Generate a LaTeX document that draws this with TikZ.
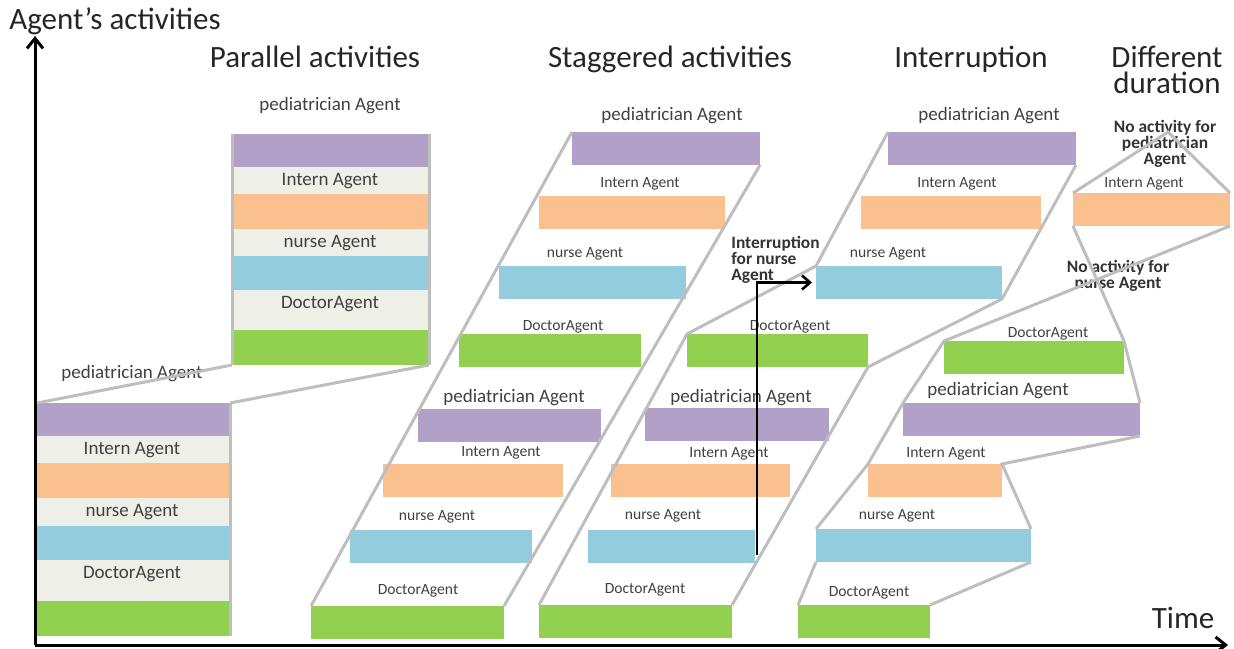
\documentclass[tikz,border=0pt]{standalone}
\usepackage{fontspec}
\setmainfont{Carlito}
\usetikzlibrary{arrows.meta, positioning}
\definecolor{pedpurple}{RGB}{177,160,199}
\definecolor{intorange}{RGB}{250,192,144}
\definecolor{nurblue}{RGB}{147,205,221}
\definecolor{docgreen}{RGB}{146,208,80}
\definecolor{layergray}{RGB}{238,240,232}
\definecolor{linkgray}{RGB}{190,190,190}
\definecolor{txtgray}{RGB}{64,64,64}

% one activity bar: [height]{name}{colour}{x}{y}{width}, in pixels
\newcommand{\actbar}[6][33]{\node[bar, fill=#3, minimum width=#6*0.5pt, minimum height=#1*0.5pt] (#2) at (#4,#5) {};}

\begin{document}
\begin{tikzpicture}[x=0.5pt, y=-0.5pt,
  bar/.style={anchor=north west, inner sep=0pt, outer sep=0pt},
  link/.style={draw=linkgray, line width=1.5pt},
  axis/.style={line width=1.5pt, -{Straight Barb[length=5pt, width=8pt]}},
  title/.style={font=\fontsize{15.5}{13}\selectfont, text=black!85, inner sep=0pt},
  biglbl/.style={font=\fontsize{9.5}{11}\selectfont, text=txtgray, inner sep=0pt},
  smalllbl/.style={font=\fontsize{7.8}{9}\selectfont, text=txtgray, inner sep=0pt},
  note/.style={font=\fontsize{8.7}{8}\selectfont\bfseries, text=black!80, inner sep=0pt}]
  \useasboundingbox (0,0) rectangle (1234,648);

  % axes
  \coordinate (origin) at (35,645);
  \coordinate (yend) at (35,36);
  \coordinate (xend) at (1228,645);
  \draw[axis] (origin) -- (yend);
  \draw[axis] (origin) -- (xend);
  \node[title, anchor=base west] (ylabel) at (9,29) {Agent’s activities};
  \node[title, anchor=base] (xlabel) at (1183,628) {Time};

  % titles
  \node[title, anchor=base] (parTitle) at (315,67) {Parallel activities};
  \node[title, anchor=base] (stagTitle) at (670,67) {Staggered activities};
  \node[title, anchor=base] (intTitle) at (971,67) {Interruption};
  \node[title, anchor=base] (durTitle) at (1167,67) {Different};
  \node[title, anchor=base] (durTitle2) at (1167,93) {duration};

  % parallel activities
  \node[bar, fill=layergray, minimum width=98.5pt, minimum height=115.5pt] (pu) at (232,134) {};
  \actbar{pu1}{pedpurple}{232}{134}{197}
  \actbar[35]{pu2}{intorange}{232}{194}{197}
  \actbar[34]{pu3}{nurblue}{232}{256}{197}
  \actbar[35]{pu4}{docgreen}{232}{330}{197}
  \node[biglbl] (pu1t) at (330,106) {pediatrician Agent};
  \node[biglbl] (pu2t) at (330,181) {Intern Agent};
  \node[biglbl] (pu3t) at (330,243) {nurse Agent};
  \node[biglbl] (pu4t) at (330,304) {DoctorAgent};

  \node[bar, fill=layergray, minimum width=96.5pt, minimum height=116.5pt] (pl) at (37,403) {};
  \actbar{pl1}{pedpurple}{37}{403}{193}
  \actbar[35]{pl2}{intorange}{37}{463}{193}
  \actbar[34]{pl3}{nurblue}{37}{526}{193}
  \actbar[35]{pl4}{docgreen}{37}{601}{193}
  \node[biglbl] (pl1t) at (132,374) {pediatrician Agent};
  \node[biglbl] (pl2t) at (132,450) {Intern Agent};
  \node[biglbl] (pl3t) at (132,512) {nurse Agent};
  \node[biglbl] (pl4t) at (132,574) {DoctorAgent};

  % staggered activities
  \actbar{su1}{pedpurple}{572}{132}{188}
  \actbar{su2}{intorange}{539}{196}{186}
  \actbar{su3}{nurblue}{499}{266}{187}
  \actbar{su4}{docgreen}{459}{334}{182}
  \actbar{sl1}{pedpurple}{418}{409}{183}
  \actbar{sl2}{intorange}{383}{464}{180}
  \actbar{sl3}{nurblue}{350}{530}{182}
  \actbar{sl4}{docgreen}{311}{606}{193}
  \node[biglbl] (su1t) at (672,116) {pediatrician Agent};
  \node[smalllbl] (su2t) at (640,184) {Intern Agent};
  \node[smalllbl] (su3t) at (585,254) {nurse Agent};
  \node[smalllbl] (su4t) at (563,327) {DoctorAgent};
  \node[biglbl] (sl1t) at (514,398) {pediatrician Agent};
  \node[smalllbl] (sl2t) at (501,453) {Intern Agent};
  \node[smalllbl] (sl3t) at (437,517) {nurse Agent};
  \node[smalllbl] (sl4t) at (418,591) {DoctorAgent};

  % interruption
  \actbar{iu1}{pedpurple}{888}{132}{188}
  \actbar{iu2}{intorange}{861}{196}{180}
  \actbar{iu3}{nurblue}{816}{266}{186}
  \actbar{iu4}{docgreen}{687}{334}{181}
  \actbar{il1}{pedpurple}{645}{408}{184}
  \actbar{il2}{intorange}{611}{464}{179}
  \actbar{il3}{nurblue}{588}{530}{167}
  \actbar{il4}{docgreen}{539}{605}{193}
  \node[biglbl] (iu1t) at (989,116) {pediatrician Agent};
  \node[smalllbl] (iu2t) at (957,184) {Intern Agent};
  \node[smalllbl] (iu3t) at (888,254) {nurse Agent};
  \node[smalllbl] (iu4t) at (790,327) {DoctorAgent};
  \node[biglbl] (il1t) at (741,398) {pediatrician Agent};
  \node[smalllbl] (il2t) at (729,454) {Intern Agent};
  \node[smalllbl] (il3t) at (663,516) {nurse Agent};
  \node[smalllbl] (il4t) at (645,590) {DoctorAgent};
  \node[note, align=left, anchor=north west] (intNote) at (731,236) {Interruption\\for nurse\\Agent};

  % different duration
  \actbar{dt}{intorange}{1073}{193}{157}
  \actbar{d1}{docgreen}{944}{341}{180}
  \actbar{d2}{pedpurple}{903}{403}{237}
  \actbar{d3}{intorange}{868}{464}{134}
  \actbar{d4}{nurblue}{816}{529}{215}
  \actbar{d5}{docgreen}{798}{605}{132}
  \node[smalllbl] (dtt) at (1144,184) {Intern Agent};
  \node[smalllbl] (d1t) at (1048,334) {DoctorAgent};
  \node[biglbl] (d2t) at (998,391) {pediatrician Agent};
  \node[smalllbl] (d3t) at (946,454) {Intern Agent};
  \node[smalllbl] (d4t) at (897,516) {nurse Agent};
  \node[smalllbl] (d5t) at (869,593) {DoctorAgent};
  \node[note, align=center] (noPed) at (1165,144) {No activity for\\pediatrician\\Agent};
  \node[note, align=center] (noNur) at (1118,276) {No activity for\\nurse Agent};
  \coordinate (peak) at (1168,132);

  % grey links
  \draw[link] (pl.north west) -- (pu.south west);
  \draw[link] (pl.north east) -- (pu.south east);
  \draw[link] (pu.north west) -- (pu.south west);
  \draw[link] (pu.north east) -- (pu.south east);
  \draw[link] (pl.north east) -- (pl.south east);
  \draw[link] (sl4.north west) -- (su1.north west);
  \draw[link] (sl4.north east) -- (su1.south east);
  \draw[link] (il4.north west) -- (iu4.north west) -- (iu3.north west) -- (iu1.north west);
  \draw[link] (il4.north east) -- (iu4.south east) -- (iu3.south east) -- (iu1.south east);
  \draw[link] (dt.north west) -- (peak) -- (dt.north east);
  \draw[link] (dt.south east) -- (d1.north west) -- (d2.north west) -- (d3.north west) -- (d4.north west);
  \draw[link] (d4.south west) -- (d5.north west);
  \draw[link] (dt.south west) -- (d1.north east) -- (d2.north east);
  \draw[link] (d2.south east) -- (d3.north east) -- (d4.north east);
  \draw[link] (d4.south east) -- (d5.north east);

  % interruption arrow
  \coordinate (intFrom) at (757,555);
  \draw[line width=1.3pt, -{Straight Barb[length=4pt, width=7pt]}, shorten >=2pt] (intFrom) |- (iu3.west);
\end{tikzpicture}
\end{document}
